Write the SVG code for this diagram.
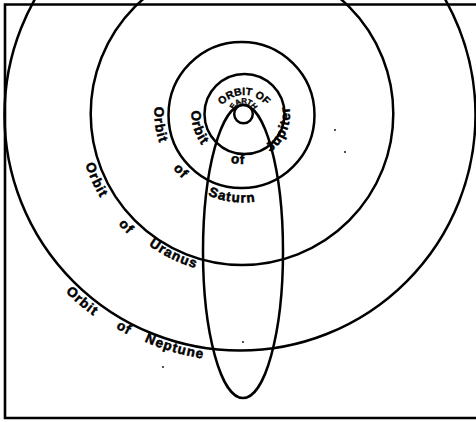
<svg xmlns="http://www.w3.org/2000/svg" width="476" height="422" viewBox="0 0 476 422">
<style>
.orb{fill:none;stroke:#000;stroke-width:2.5}
.lbl{font-family:"Liberation Sans",Arial,sans-serif;font-weight:bold;font-size:13.5px;letter-spacing:1.1px;fill:#000;stroke:#000;stroke-width:0.5}
.sm{font-family:"Liberation Sans",Arial,sans-serif;font-weight:bold;fill:#000;stroke:#000;stroke-width:0.35}
</style>
<defs>
<path id="pJo" d="M243,62.5 A51.5,51.5 0 0 0 243,165.5 A51.5,51.5 0 0 0 243,62.5"/>
<path id="pJf" d="M243,64 A50,50 0 0 0 243,164 A50,50 0 0 0 243,64"/>
<path id="pJj" d="M243,67 A47,47 0 0 0 243,161 A47,47 0 0 0 243,67"/>
<path id="pS" d="M243,25.5 A88.5,88.5 0 0 0 243,202.5 A88.5,88.5 0 0 0 243,25.5"/>
<path id="pUo" d="M243,-51.5 A165.5,165.5 0 0 0 243,279.5 A165.5,165.5 0 0 0 243,-51.5"/>
<path id="pUf" d="M243,-52.5 A166.5,166.5 0 0 0 243,280.5 A166.5,166.5 0 0 0 243,-52.5"/>
<path id="pUu" d="M243,-47.5 A161.5,161.5 0 0 0 243,275.5 A161.5,161.5 0 0 0 243,-47.5"/>
<path id="pNo" d="M243,-137.3 A251.3,251.3 0 0 0 243,365.3 A251.3,251.3 0 0 0 243,-137.3"/>
<path id="pNf" d="M243,-135 A249,249 0 0 0 243,363 A249,249 0 0 0 243,-135"/>
<path id="pNn" d="M243,-134 A248,248 0 0 0 243,362 A248,248 0 0 0 243,-134"/>
<path id="pE1" d="M215.4,123.6 A28.6,28.6 0 0 1 272.6,123.6"/>
<path id="pE2" d="M233,114 A10.5,10.5 0 0 1 254,114"/>
</defs>
<rect width="476" height="422" fill="#fff"/>
<path id="frame" d="M476,4.5 H5 V418 H476" fill="none" stroke="#000" stroke-width="2.6"/>
<g id="connectors">
<ellipse id="comet" class="orb" cx="243" cy="251.5" rx="40" ry="146.5"/>
</g>
<g id="earth">
<circle class="orb" cx="243.5" cy="114" r="9.3"/>
<text class="sm" style="font-size:10.5px"><textPath href="#pE1" startOffset="50%" text-anchor="middle">ORBIT OF</textPath></text>
<text class="sm" style="font-size:7.8px;letter-spacing:-0.5px"><textPath href="#pE2" startOffset="50%" text-anchor="middle">EARTH</textPath></text>
</g>
<g id="jupiter">
<circle class="orb" cx="244.5" cy="114" r="40"/>
<text class="lbl"><textPath href="#pJo" startOffset="96.4" text-anchor="middle">Orbit</textPath></text>
<text class="lbl"><textPath href="#pJf" startOffset="151.7" text-anchor="middle">of</textPath></text>
<text class="lbl"><textPath href="#pJj" startOffset="203" text-anchor="middle">Jupiter</textPath></text>
</g>
<g id="saturn">
<circle class="orb" cx="241.5" cy="115" r="73"/>
<text class="lbl"><textPath href="#pS" startOffset="150.4" text-anchor="middle">Orbit</textPath></text>
<text class="lbl"><textPath href="#pS" startOffset="204.8" text-anchor="middle">of</textPath></text>
<text class="lbl"><textPath href="#pS" startOffset="266" text-anchor="middle">Saturn</textPath></text>
</g>
<g id="uranus">
<circle class="orb" cx="242" cy="113.7" r="151.3"/>
<text class="lbl"><textPath href="#pUo" startOffset="329.9" text-anchor="middle">Orbit</textPath></text>
<text class="lbl"><textPath href="#pUf" startOffset="389.4" text-anchor="middle">of</textPath></text>
<text class="lbl"><textPath href="#pUu" startOffset="433" text-anchor="middle">Uranus</textPath></text>
</g>
<g id="neptune">
<circle class="orb" cx="240" cy="115" r="235.5"/>
<text class="lbl"><textPath href="#pNo" startOffset="611" text-anchor="middle">Orbit</textPath></text>
<text class="lbl"><textPath href="#pNf" startOffset="655.8" text-anchor="middle">of</textPath></text>
<text class="lbl"><textPath href="#pNn" startOffset="708.1" text-anchor="middle">Neptune</textPath></text>
</g>
<g id="specks" fill="#000">
<circle cx="335" cy="130" r="0.9"/>
<circle cx="345" cy="152" r="0.9"/>
<circle cx="243" cy="342" r="0.9"/>
<circle cx="163" cy="367" r="0.9"/>
</g>
</svg>
